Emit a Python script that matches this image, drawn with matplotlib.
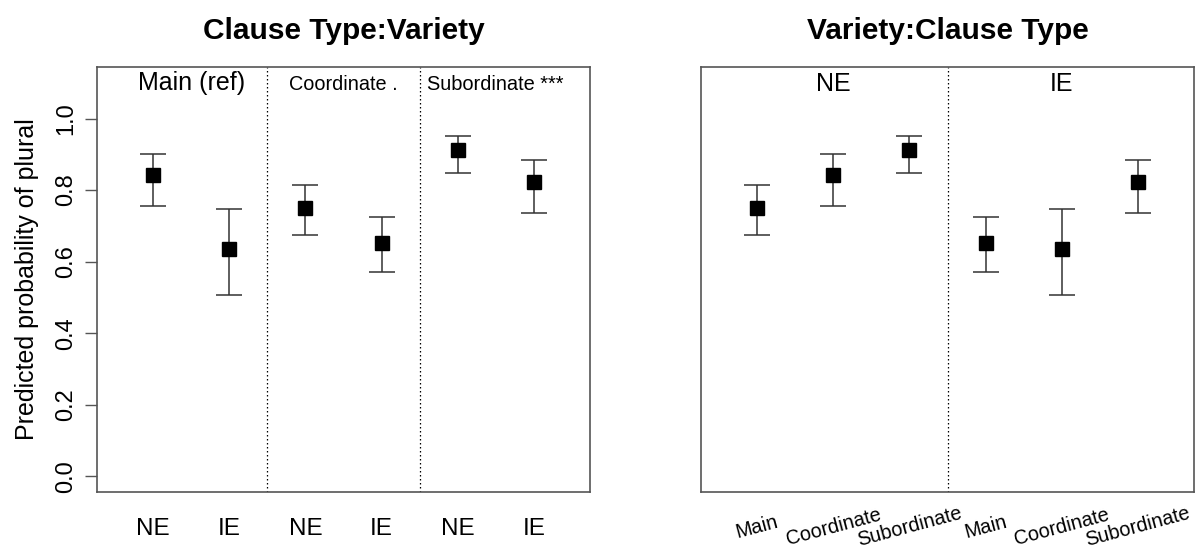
import matplotlib
matplotlib.use("Agg")
import matplotlib.pyplot as plt
import numpy as np

plt.rcParams['font.family'] = ['Liberation Sans', 'DejaVu Sans']

# Left panel: Clause Type:Variety
left_labels = ["NE", "IE", "NE", "IE", "NE", "IE"]
left_fit = [0.842, 0.636, 0.750, 0.651, 0.912, 0.822]
left_lower = [0.755, 0.508, 0.674, 0.571, 0.847, 0.736]
left_upper = [0.901, 0.746, 0.813, 0.724, 0.951, 0.885]
left_groups = ["Main (ref)", "Coordinate .", "Subordinate ***"]

# Right panel: Variety:Clause Type
right_labels = ["Main", "Coordinate", "Subordinate", "Main", "Coordinate", "Subordinate"]
right_fit = [0.750, 0.842, 0.912, 0.651, 0.636, 0.822]
right_lower = [0.674, 0.755, 0.847, 0.571, 0.508, 0.736]
right_upper = [0.813, 0.901, 0.951, 0.724, 0.746, 0.885]
right_groups = ["NE", "IE"]

yticks = [0.0, 0.2, 0.4, 0.6, 0.8, 1.0]

fig = plt.figure(figsize=(11.95, 5.48), dpi=100)
axL = fig.add_axes([97/1195, 56/548, 493/1195, 425/548])
axR = fig.add_axes([701/1195, 56/548, 493/1195, 425/548])

ylim = (-0.044, 1.144)
xlim = (0.26, 6.74)
ecol = "#333333"
spine_col = "#555555"


def draw(ax, fit, lo, hi):
    x = np.arange(1, len(fit) + 1)
    fit = np.array(fit)
    yerr = np.vstack([fit - np.array(lo), np.array(hi) - fit])
    ax.errorbar(x, fit, yerr=yerr, fmt="none", ecolor=ecol, elinewidth=1.1,
                capsize=9.4, capthick=1.1, zorder=2)
    ax.plot(x, fit, "s", color="black", markersize=10.5, zorder=3)
    ax.set_xlim(*xlim)
    ax.set_ylim(*ylim)
    for s in ax.spines.values():
        s.set_color(spine_col)
        s.set_linewidth(1.2)


draw(axL, left_fit, left_lower, left_upper)
draw(axR, right_fit, right_lower, right_upper)

# Left axes
axL.set_yticks(yticks)
axL.set_yticklabels([f"{v:.1f}" for v in yticks], rotation=90, va="center", fontsize=17)
axL.tick_params(axis="y", length=9, width=1.0, color=spine_col, pad=5)
axL.set_xticks(np.arange(1, 7))
axL.set_xticklabels(left_labels, fontsize=17.5)
axL.tick_params(axis="x", length=0, pad=19)
axL.set_ylabel("Predicted probability of plural", fontsize=18, labelpad=12)
axL.set_title("Clause Type:Variety", fontsize=21.5, fontweight="bold", pad=20)
for xv in [2.5, 4.5]:
    axL.axvline(xv, color="black", linestyle=(0, (1.2, 2)), linewidth=0.9)
axL.text(1.5, 1.098, left_groups[0], ha="center", va="center", fontsize=18)
axL.text(3.5, 1.096, left_groups[1], ha="center", va="center", fontsize=14.3)
axL.text(5.5, 1.096, left_groups[2], ha="center", va="center", fontsize=14.4)

# Right axes
axR.set_yticks([])
axR.set_xticks(np.arange(1, 7))
axR.set_xticklabels([])
axR.tick_params(axis="x", length=0)
for i, lab in enumerate(right_labels):
    axR.annotate(lab, xy=(i + 1, 0), xycoords=("data", "axes fraction"),
                 xytext=(0, -35), textcoords="offset pixels",
                 ha="center", va="center", rotation=15, fontsize=14.3,
                 rotation_mode="anchor")
axR.set_title("Variety:Clause Type", fontsize=21.5, fontweight="bold", pad=20)
axR.axvline(3.5, color="black", linestyle=(0, (1.2, 2)), linewidth=0.9)
axR.text(2, 1.096, right_groups[0], ha="center", va="center", fontsize=18)
axR.text(5, 1.096, right_groups[1], ha="center", va="center", fontsize=18)

fig.savefig("out.png", dpi=100)
